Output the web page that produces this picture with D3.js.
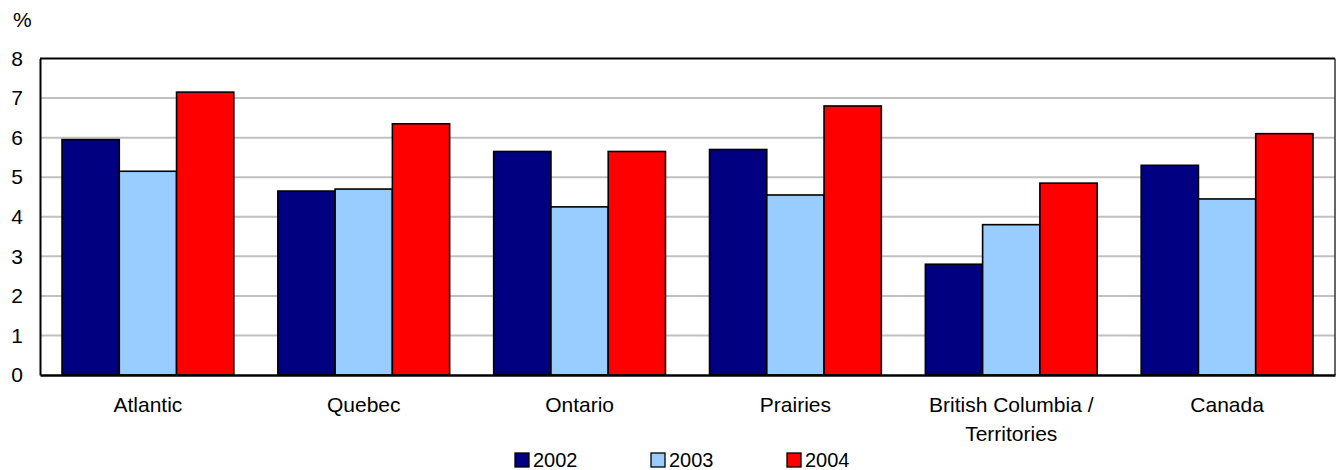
<!DOCTYPE html>
<html>
<head>
<meta charset="utf-8">
<script src="https://cdn.jsdelivr.net/npm/d3@7/dist/d3.min.js"></script>
<style>
  html, body { margin: 0; padding: 0; background: #fff; }
  svg { display: block; font-family: "Liberation Sans", Arial, sans-serif; }
</style>
</head>
<body>
<svg id="chart" width="1336" height="470"></svg>
<script>
// Regions (a "\n" splits a label over two lines)
const categories = ["Atlantic", "Quebec", "Ontario", "Prairies", "British Columbia /\nTerritories", "Canada"];
const seriesNames = ["2002", "2003", "2004"];
const values2002 = [5.95, 4.65, 5.65, 5.7, 2.8, 5.3];
const values2003 = [5.15, 4.7, 4.25, 4.55, 3.8, 4.45];
const values2004 = [7.15, 6.35, 5.65, 6.8, 4.85, 6.1];
const yTicks = [0, 1, 2, 3, 4, 5, 6, 7, 8];
const unitLabel = "%";

const colors = ["#000080", "#99CCFF", "#FF0000"];
const seriesValues = [values2002, values2003, values2004];

const svg = d3.select("#chart");
const plot = { left: 40, right: 1335, top: 58.5, bottom: 375 };
const fontSize = 21;

const x = d3.scaleBand().domain(categories).range([plot.left, plot.right]).padding(0);
const gapFrac = 0.204;
const xs = d3.scaleBand().domain(seriesNames)
  .range([x.bandwidth() * gapFrac / 2, x.bandwidth() * (1 - gapFrac / 2)]).padding(0);
const y = d3.scaleLinear().domain([0, 8]).range([plot.bottom, plot.top]);

// Horizontal gridlines
svg.append("g").selectAll("line")
  .data(yTicks.filter(t => t > 0 && t < 8))
  .join("line")
  .attr("x1", plot.left).attr("x2", plot.right)
  .attr("y1", d => y(d)).attr("y2", d => y(d))
  .attr("stroke", "#c0c0c0").attr("stroke-width", 2);

// Bars
const rows = categories.map((c, i) => ({ cat: c, vals: seriesNames.map((s, j) => ({ s, j, v: seriesValues[j][i] })) }));
svg.append("g").selectAll("g")
  .data(rows)
  .join("g")
  .attr("transform", d => `translate(${x(d.cat)},0)`)
  .selectAll("rect")
  .data(d => d.vals)
  .join("rect")
  .attr("x", d => xs(d.s))
  .attr("width", xs.bandwidth())
  .attr("y", d => y(d.v))
  .attr("height", d => y(0) - y(d.v))
  .attr("fill", d => colors[d.j])
  .attr("stroke", "#000")
  .attr("stroke-width", 1.6);

// Plot frame
svg.append("line").attr("x1", plot.left).attr("x2", plot.right).attr("y1", plot.top).attr("y2", plot.top)
  .attr("stroke", "#000").attr("stroke-width", 2);
svg.append("line").attr("x1", plot.right).attr("x2", plot.right).attr("y1", plot.top).attr("y2", plot.bottom)
  .attr("stroke", "#333").attr("stroke-width", 1.5);

// Y axis
const yAxis = svg.append("g")
  .attr("transform", `translate(${plot.left},0)`)
  .call(d3.axisLeft(y).tickValues(yTicks).tickSize(0).tickPadding(17).tickFormat(d3.format("d")));
yAxis.select(".domain").attr("stroke", "#000").attr("stroke-width", 2);
yAxis.selectAll("text").attr("font-size", fontSize).attr("fill", "#000")
  .attr("font-family", "'Liberation Sans', Arial, sans-serif");

svg.append("text").attr("x", 13).attr("y", 27)
  .attr("font-size", fontSize).attr("fill", "#000").text(unitLabel);

// X axis
const xAxis = svg.append("g")
  .attr("transform", `translate(0,${plot.bottom})`)
  .call(d3.axisBottom(x).tickSize(0).tickPadding(0));
xAxis.select(".domain").attr("stroke", "#000").attr("stroke-width", 2.5);
xAxis.selectAll("text").each(function (d) {
  const t = d3.select(this);
  t.text(null).attr("y", 37).attr("dy", null)
    .attr("font-size", fontSize).attr("fill", "#000")
    .attr("font-family", "'Liberation Sans', Arial, sans-serif");
  d.split("\n").forEach((line, k) => {
    t.append("tspan").attr("x", 0).attr("dy", k === 0 ? 0 : 29).text(line);
  });
});

// Legend
const legendX = [515, 651, 787];
const legend = svg.append("g").selectAll("g")
  .data(seriesNames)
  .join("g")
  .attr("transform", (d, i) => `translate(${legendX[i]},453)`);
legend.append("rect")
  .attr("width", 14).attr("height", 14)
  .attr("fill", (d, i) => colors[i])
  .attr("stroke", "#000").attr("stroke-width", 1.3);
legend.append("text")
  .attr("x", 18).attr("y", 14)
  .attr("font-size", 20).attr("fill", "#000")
  .text(d => d);
</script>
</body>
</html>
